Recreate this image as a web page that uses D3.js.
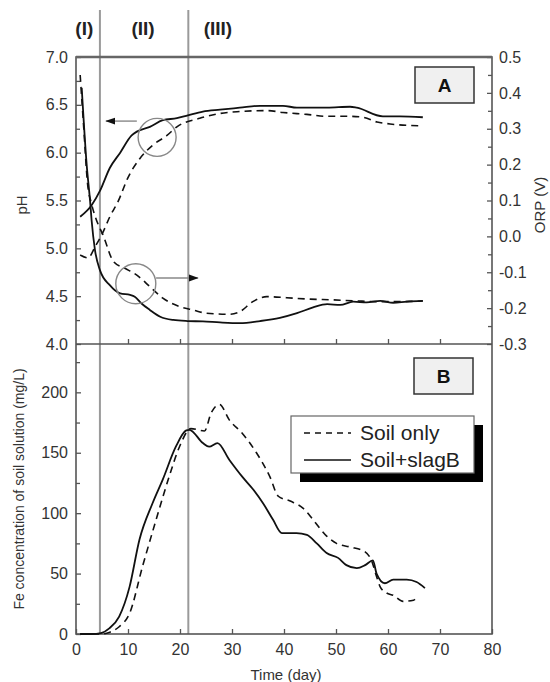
<!DOCTYPE html>
<html>
<head>
<meta charset="utf-8">
<title>pH, ORP and Fe concentration</title>
<script src="https://d3js.org/d3.v7.min.js"></script>
<style>
body { margin: 0; background: #fff; }
text { font-family: "Liberation Sans", Arial, sans-serif; }
</style>
</head>
<body>
<div id="chart"></div>
<script>
// pH, panel A, left axis  [day, pH]
const phSoil = [[0.8,4.93],[2.3,4.90],[3.7,5.02],[5.2,5.17],[6.5,5.33],[8.1,5.49],[10,5.74],[12.3,5.94],[14.8,6.08],[17.5,6.18],[19.4,6.27],[23.8,6.36],[27.7,6.41],[31.5,6.43],[36.7,6.44],[39.8,6.42],[44.4,6.40],[48.3,6.38],[52.7,6.38],[55.2,6.37],[57.9,6.32],[60.4,6.30],[66.2,6.28]];
const phSlag = [[0.8,5.33],[3.0,5.45],[4.6,5.6],[6.5,5.84],[8.5,6.0],[10.7,6.18],[11.7,6.22],[14.2,6.27],[16.7,6.34],[19.4,6.36],[21.5,6.39],[24.4,6.43],[27.7,6.45],[31.5,6.47],[35.4,6.49],[39.8,6.49],[42.5,6.47],[48.3,6.47],[52.7,6.48],[54,6.47],[59,6.38],[62.3,6.38],[66.7,6.37]];

// ORP, panel A, right axis  [day, V]
const orpSoil = [[0.8,0.45],[1.5,0.30],[2.2,0.15],[3.0,0.09],[3.7,0.055],[5.3,0.0],[7.2,-0.07],[9.4,-0.089],[11.7,-0.108],[14.2,-0.14],[16.7,-0.172],[20,-0.196],[22.5,-0.205],[25,-0.214],[29.6,-0.217],[31.5,-0.21],[34,-0.182],[36.7,-0.168],[40.5,-0.171],[45,-0.175],[49.4,-0.177],[54,-0.18],[58.5,-0.182],[62.3,-0.182],[66.7,-0.18]];
const orpSlag = [[1.1,0.414],[2.05,0.20],[2.7,0.10],[3.0,0.045],[3.65,-0.038],[4.6,-0.094],[6.5,-0.136],[8.5,-0.159],[10.4,-0.163],[11.3,-0.168],[12.6,-0.187],[14.2,-0.205],[16.2,-0.224],[18.7,-0.233],[21.5,-0.236],[24.4,-0.237],[27.7,-0.24],[31.5,-0.242],[35.4,-0.236],[39.2,-0.227],[42.5,-0.214],[45.6,-0.198],[48.3,-0.189],[50.8,-0.191],[53.3,-0.182],[55.9,-0.184],[58.5,-0.180],[61,-0.185],[63.6,-0.182],[66.7,-0.180]];

// Fe concentration of soil solution, panel B  [day, mg/L]
const feSoil = [[0.8,0],[5,0],[6.5,1.5],[8.3,6],[10.3,17],[12.8,56],[15.4,94.5],[17.9,130],[19.9,155],[22.1,170],[24.7,168],[26,183],[27.6,190],[29.5,177],[32,166],[34.7,150],[37.3,130],[38.9,114],[41.2,110],[43.7,104],[45.6,94.5],[48.2,81],[50.1,75],[52.7,72],[55.6,68],[56.9,60],[57.8,47.5],[58.5,39],[59.7,34],[61,32],[62.9,27],[64.9,28],[65.8,31]];
const feSlag = [[0.8,0],[3,0],[4.8,0.8],[6.4,4.7],[8.3,14.4],[10.3,39],[12.2,78],[14.7,108],[16.7,128],[19.2,155],[21.2,168.5],[21.8,169],[24.4,158],[25.6,155],[27.2,158],[29.5,144],[32,130],[34,120],[36,108],[37.9,94.5],[39.6,83.5],[42.4,83.5],[44.4,82],[46.3,75],[48.2,67],[50.4,63],[52,57],[54,54.5],[55.6,57],[57.1,61],[57.8,50],[59.4,42],[61,45],[63.6,45],[65.5,43],[67.1,38]];

const dayTicks = [0,10,20,30,40,50,60,70,80];
const phTicks = [4.0,4.5,5.0,5.5,6.0,6.5,7.0];
const orpTicks = [-0.3,-0.2,-0.1,0.0,0.1,0.2,0.3,0.4,0.5];
const feTicks = [0,50,100,150,200];
const phaseBounds = [4.6, 21.6];
const phaseLabels = ["(I)","(II)","(III)"];
const phaseLabelDays = [1.6, 12.9, 27.3];
const seriesNames = ["Soil only","Soil+slagB"];

let margin = {top: 57, left: 76};
let w = 416, hA = 287, hB = 290;

let svg = d3.select("#chart").append("svg")
    .attr("width", 550).attr("height", 682)
  .append("g")
    .attr("transform", "translate(" + margin.left + "," + margin.top + ")");

let x = d3.scaleLinear().domain([0, 80]).range([0, w]);
let yPh = d3.scaleLinear().domain([4, 7]).range([hA, 0]);
let yOrp = d3.scaleLinear().domain([-0.3, 0.5]).range([hA, 0]);
let yFe = d3.scaleLinear().domain([0, 240]).range([hA + hB, hA]);

const axisColor = "#555";

function styleAxis(g) {
  g.select(".domain").remove();
  g.selectAll("line").attr("stroke", axisColor).attr("stroke-width", 1.3);
  g.selectAll("text").attr("fill", "#333").attr("font-size", 16)
    .style("font-family", '"Liberation Sans", Arial, sans-serif');
}
const fmt1 = d => d.toFixed(1);
function minors(ticks, step) { return ticks.slice(0, -1).map(t => +(t + step).toFixed(3)); }

// phase separators
svg.selectAll(".phase").data(phaseBounds).enter().append("line")
  .attr("x1", d => x(d)).attr("x2", d => x(d))
  .attr("y1", -47).attr("y2", hA + hB)
  .attr("stroke", "#9a9a9a").attr("stroke-width", 2);
svg.selectAll(".phaseLabel").data(phaseLabels).enter().append("text")
  .attr("x", (d, i) => x(phaseLabelDays[i])).attr("y", -22)
  .attr("text-anchor", "middle").attr("font-size", 19).attr("font-weight", "bold")
  .attr("fill", "#222").text(d => d);

// left axes
svg.append("g").call(d3.axisLeft(yPh).tickValues(phTicks).tickFormat(fmt1).tickSizeInner(-5).tickSizeOuter(0).tickPadding(8)).call(styleAxis);
svg.append("g").call(d3.axisLeft(yPh).tickValues(minors(phTicks, 0.25)).tickFormat("").tickSizeInner(-4).tickSizeOuter(0)).call(styleAxis);
svg.append("g").call(d3.axisLeft(yFe).tickValues(feTicks).tickFormat(d3.format("d")).tickSizeInner(-5).tickSizeOuter(0).tickPadding(8)).call(styleAxis);
svg.append("g").call(d3.axisLeft(yFe).tickValues([25,75,125,175,225]).tickFormat("").tickSizeInner(-4).tickSizeOuter(0)).call(styleAxis);
// right axis
svg.append("g").attr("transform", "translate(" + w + ",0)")
  .call(d3.axisRight(yOrp).tickValues(orpTicks).tickFormat(fmt1).tickSizeInner(-5).tickSizeOuter(0).tickPadding(7)).call(styleAxis);
svg.append("g").attr("transform", "translate(" + w + ",0)")
  .call(d3.axisRight(yOrp).tickValues(minors(orpTicks, 0.05)).tickFormat("").tickSizeInner(-4).tickSizeOuter(0)).call(styleAxis);
// bottom axes
svg.append("g").attr("transform", "translate(0," + hA + ")")
  .call(d3.axisBottom(x).tickValues(dayTicks.slice(1, -1)).tickFormat("").tickSizeInner(-5).tickSizeOuter(0)).call(styleAxis);
svg.append("g").attr("transform", "translate(0," + (hA + hB) + ")")
  .call(d3.axisBottom(x).tickValues(dayTicks).tickFormat(d3.format("d")).tickSizeInner(-5).tickSizeOuter(0).tickPadding(10)).call(styleAxis);

// frame
svg.append("rect").attr("x", 0).attr("y", 0).attr("width", w).attr("height", hA + hB)
  .attr("fill", "none").attr("stroke", axisColor).attr("stroke-width", 1.6);
svg.append("line").attr("x1", 0).attr("x2", w).attr("y1", 0).attr("y2", 0)
  .attr("stroke", "#666").attr("stroke-width", 2.4);
svg.append("line").attr("x1", 0).attr("x2", w).attr("y1", hA).attr("y2", hA)
  .attr("stroke", axisColor).attr("stroke-width", 1.6);

// curves
function draw(data, y, dashed) {
  let line = d3.line().x(d => x(d[0])).y(d => y(d[1])).curve(d3.curveMonotoneX);
  svg.append("path").datum(data).attr("d", line)
    .attr("fill", "none").attr("stroke", "#111")
    .attr("stroke-width", dashed ? 1.6 : 1.8)
    .attr("stroke-dasharray", dashed ? "7,5" : null);
}
draw(phSoil, yPh, true);
draw(phSlag, yPh, false);
draw(orpSoil, yOrp, true);
draw(orpSlag, yOrp, false);
draw(feSoil, yFe, true);
draw(feSlag, yFe, false);

// circle + arrow annotations
svg.append("defs").append("marker")
  .attr("id", "head").attr("markerUnits", "userSpaceOnUse")
  .attr("markerWidth", 10).attr("markerHeight", 8)
  .attr("refX", 9).attr("refY", 3.5).attr("orient", "auto")
  .append("path").attr("d", "M0,0 L10,3.5 L0,7 z").attr("fill", "#111");

svg.append("circle").attr("cx", x(15.6)).attr("cy", yPh(6.16)).attr("r", 19)
  .attr("fill", "none").attr("stroke", "#888").attr("stroke-width", 1.4);
svg.append("line").attr("x1", x(11.7)).attr("x2", x(5.8)).attr("y1", yPh(6.33)).attr("y2", yPh(6.33))
  .attr("stroke", "#888").attr("stroke-width", 1.4).attr("marker-end", "url(#head)");
svg.append("circle").attr("cx", x(11.5)).attr("cy", yPh(4.63)).attr("r", 20)
  .attr("fill", "none").attr("stroke", "#888").attr("stroke-width", 1.4);
svg.append("line").attr("x1", x(15.4)).attr("x2", x(23.4)).attr("y1", yPh(4.69)).attr("y2", yPh(4.69))
  .attr("stroke", "#888").attr("stroke-width", 1.4).attr("marker-end", "url(#head)");

// panel labels
function panelBox(label, bx, by) {
  svg.append("rect").attr("x", bx).attr("y", by).attr("width", 59).attr("height", 36)
    .attr("fill", "#f0f0f0").attr("stroke", "#333").attr("stroke-width", 1.5);
  svg.append("text").attr("x", bx + 29.5).attr("y", by + 25)
    .attr("text-anchor", "middle").attr("font-size", 19).attr("font-weight", "bold")
    .attr("fill", "#111").text(label);
}
panelBox("A", 339, 10);
panelBox("B", 338, 301);

// legend
let lg = svg.append("g").attr("transform", "translate(215," + (hA + 72) + ")");
lg.append("rect").attr("x", 9).attr("y", 9).attr("width", 183).attr("height", 57).attr("fill", "#000");
lg.append("rect").attr("x", 0).attr("y", 0).attr("width", 183).attr("height", 57)
  .attr("fill", "#fff").attr("stroke", "#666").attr("stroke-width", 1.2);
seriesNames.forEach((name, i) => {
  let yy = 17 + i * 27;
  lg.append("line").attr("x1", 13).attr("x2", 60).attr("y1", yy).attr("y2", yy)
    .attr("stroke", "#111").attr("stroke-width", 1.4)
    .attr("stroke-dasharray", i === 0 ? "6,5" : null);
  lg.append("text").attr("x", 69).attr("y", yy + 7).attr("font-size", 21)
    .attr("fill", "#222").text(name);
});

// axis titles
svg.append("text").attr("transform", "translate(" + (27 - margin.left) + "," + (205 - margin.top) + ") rotate(-90)")
  .attr("text-anchor", "middle").attr("font-size", 15).attr("fill", "#333").text("pH");
svg.append("text").attr("transform", "translate(" + (545 - margin.left) + "," + (205 - margin.top) + ") rotate(-90)")
  .attr("text-anchor", "middle").attr("font-size", 15).attr("fill", "#333").text("ORP (V)");
svg.append("text").attr("transform", "translate(" + (24 - margin.left) + "," + (hA + hB / 2) + ") rotate(-90)")
  .attr("text-anchor", "middle").attr("font-size", 14).attr("fill", "#333").text("Fe concentration of soil solution (mg/L)");
svg.append("text").attr("x", 286 - margin.left).attr("y", 680 - margin.top)
  .attr("text-anchor", "middle").attr("font-size", 15).attr("fill", "#333").text("Time (day)");
</script>
</body>
</html>
